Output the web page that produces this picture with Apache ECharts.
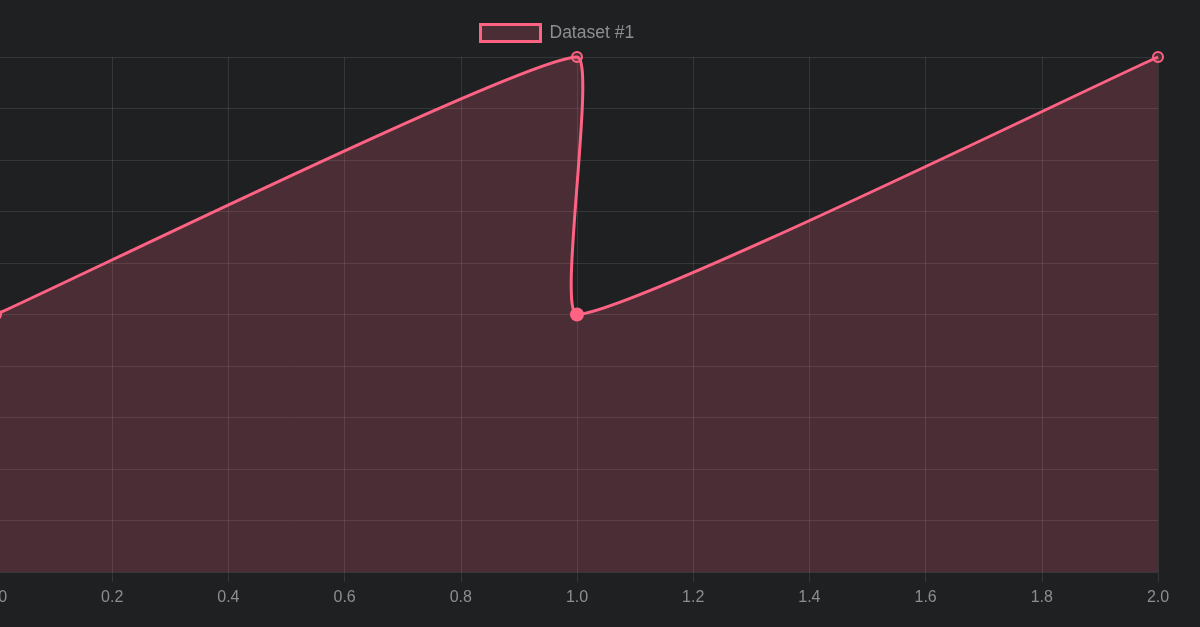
<!DOCTYPE html>
<html>
<head>
<meta charset="utf-8">
<script src="https://cdn.jsdelivr.net/npm/echarts@6/dist/echarts.min.js"></script>
<style>
html,body{margin:0;padding:0;background:#1f2022;}
#chart{width:1200px;height:627px;}
</style>
</head>
<body>
<div id="chart"></div>
<script>
const seriesName = 'Dataset #1';
const xValues = [0, 1, 1, 2];
const yValues = [50, 100, 50, 100];
const xTickLabels = ['0.0', '0.2', '0.4', '0.6', '0.8', '1.0', '1.2', '1.4', '1.6', '1.8', '2.0'];

const chart = echarts.init(document.getElementById('chart'));
const lineColor = 'rgb(255,99,132)';
const fillColor = 'rgba(255,99,132,0.2)';
const gridColor = 'rgba(255,255,255,0.1)';
const textColor = '#8e8e8e';
const fontFamily = 'Liberation Sans, Arial, sans-serif';
const tension = 0.12;

const points = xValues.map((x, i) => [x, yValues[i]]);

// Chart.js-style spline control points (tension), computed in pixel space
function splinePath(px, area) {
  const n = px.length;
  const cps = [];
  for (let i = 0; i < n; i++) {
    const cur = px[i];
    const prev = i > 0 ? px[i - 1] : cur;
    const next = i < n - 1 ? px[i + 1] : cur;
    const d01 = Math.hypot(cur[0] - prev[0], cur[1] - prev[1]);
    const d12 = Math.hypot(next[0] - cur[0], next[1] - cur[1]);
    const s01 = d01 / (d01 + d12 || 1);
    const s12 = d12 / (d01 + d12 || 1);
    const fa = tension * s01, fb = tension * s12;
    const cap = p => [
      Math.max(area.x, Math.min(area.x + area.width, p[0])),
      Math.max(area.y, Math.min(area.y + area.height, p[1]))
    ];
    cps.push({
      prev: cap([cur[0] - fa * (next[0] - prev[0]), cur[1] - fa * (next[1] - prev[1])]),
      next: cap([cur[0] + fb * (next[0] - prev[0]), cur[1] + fb * (next[1] - prev[1])])
    });
  }
  let d = 'M' + px[0][0] + ' ' + px[0][1];
  for (let i = 1; i < n; i++) {
    const a = cps[i - 1].next, b = cps[i].prev, p = px[i];
    d += ' C' + a[0] + ' ' + a[1] + ' ' + b[0] + ' ' + b[1] + ' ' + p[0] + ' ' + p[1];
  }
  return d;
}

function renderCurve(params, api) {
  if (params.dataIndex !== 0) return null;
  const area = params.coordSys;
  const px = points.map(p => api.coord(p));
  const lineD = splinePath(px, area);
  const base = api.coord([0, 0])[1];
  const last = px[px.length - 1];
  const areaD = lineD + ' L' + last[0] + ' ' + base + ' L' + px[0][0] + ' ' + base + ' Z';
  return {
    type: 'group',
    children: [
      { type: 'path', shape: { pathData: areaD }, style: { fill: fillColor, stroke: null } },
      { type: 'path', shape: { pathData: lineD }, style: { fill: null, stroke: lineColor, lineWidth: 3, lineJoin: 'round' } }
    ]
  };
}

const scatterData = points.map((p, i) => i === 2
  ? { value: p, symbolSize: 12, itemStyle: { color: lineColor, borderColor: lineColor } }
  : { value: p });

chart.setOption({
  backgroundColor: '#1f2022',
  animation: false,
  legend: {
    top: 18,
    left: 474,
    itemWidth: 60,
    itemHeight: 17,
    itemGap: 9,
    textStyle: { color: textColor, fontSize: 17.5, fontFamily: fontFamily, padding: [0, 0, 0, 4] },
    data: [{
      name: seriesName,
      icon: 'rect',
      itemStyle: { color: fillColor, borderColor: lineColor, borderWidth: 3 }
    }]
  },
  grid: { left: -4, right: 42, top: 57, bottom: 55, containLabel: false, outerBoundsMode: 'none' },
  xAxis: {
    type: 'value',
    min: 0,
    max: 2,
    interval: 0.2,
    axisLine: { show: false },
    axisTick: { show: true, length: 10, lineStyle: { color: gridColor } },
    axisLabel: {
      color: textColor,
      fontSize: 16,
      margin: 18,
      fontFamily: fontFamily,
      formatter: (v) => xTickLabels[Math.round(v / 0.2)]
    },
    splitLine: { show: true, lineStyle: { color: gridColor, width: 1 } }
  },
  yAxis: {
    type: 'value',
    min: 0,
    max: 100,
    interval: 10,
    axisLine: { show: false },
    axisTick: { show: false },
    axisLabel: { show: false },
    splitLine: { show: true, lineStyle: { color: gridColor, width: 1 } }
  },
  series: [{
    name: seriesName,
    type: 'custom',
    clip: false,
    renderItem: renderCurve,
    encode: { x: 0, y: 1 },
    data: points
  }, {
    name: seriesName + ' points',
    type: 'scatter',
    clip: false,
    symbol: 'circle',
    symbolSize: 10,
    itemStyle: { color: fillColor, borderColor: lineColor, borderWidth: 2, opacity: 1 },
    data: scatterData
  }]
});
</script>
</body>
</html>
